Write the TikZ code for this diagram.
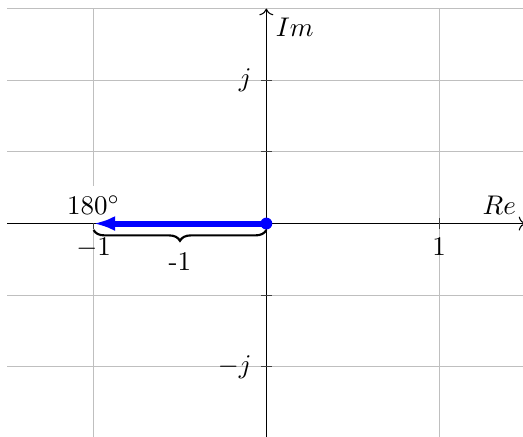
\documentclass[tikz,border=0pt]{standalone}
\usetikzlibrary{arrows.meta,decorations.pathreplacing}
\begin{document}
\begin{tikzpicture}[x=64pt,y=53.1pt,
  gridline/.style={black!25,line width=0.4pt},
  axisline/.style={black,line width=0.4pt,->},
  tickline/.style={black!75,line width=0.4pt},
  lab/.style={inner sep=3.33pt,text=black},
  vec/.style={blue,line width=2.2pt,-{Latex[length=8pt,width=5.6pt]}},
  bracestyle/.style={black,line width=0.8pt,decorate,decoration={brace,amplitude=4pt}}]
\useasboundingbox (-1.542,-1.483) rectangle (1.486,1.560);
% grid
\draw[gridline] (-1.5,-1.5) grid[xstep=1,ystep=0.5] (1.5,1.5);
% coordinates
\coordinate (O) at (0,0);
\coordinate (M) at (-1,0);
\coordinate (xl) at (-1.5,0);
\coordinate (xr) at (1.5,0);
\coordinate (yb) at (0,-1.5);
\coordinate (yt) at (0,1.5);
% axes
\draw[axisline] (xl) -- (xr);
\draw[axisline] (yb) -- (yt);
\node[lab,below right] (im) at (yt) {$Im$};
\node[lab,above left] (re) at (xr) {$Re$};
% ticks
\draw[tickline] (0,1) ++(2pt,0) -- ++(-4pt,0) node[lab,left] (lj) {$j$};
\draw[tickline] (0,0.5) ++(2pt,0) -- ++(-4pt,0);
\draw[tickline] (0,-0.5) ++(2pt,0) -- ++(-4pt,0);
\draw[tickline] (0,-1) ++(2pt,0) -- ++(-4pt,0) node[lab,left] (lmj) {$-j$};
\draw[tickline] (1,0) ++(0,2pt) -- ++(0,-4pt) node[lab,below] (l1) {$1$};
\draw[tickline] (-1,0) ++(0,2pt) -- ++(0,-4pt) node[lab,below] (lm1) {$-1$};
% angle label
\node[lab,above,fill=white] (ang) at (M) {$180^\circ$};
% vector
\draw[vec] (O) -- (M);
\node[circle,fill=blue,inner sep=0pt,minimum size=4.4pt] (dot) at (O) {};
% brace
\draw[bracestyle] (0,-0.045) -- (-1,-0.045);
\node[lab,below] (bl) at (-0.5,-0.136) {-1};
\end{tikzpicture}
\end{document}
